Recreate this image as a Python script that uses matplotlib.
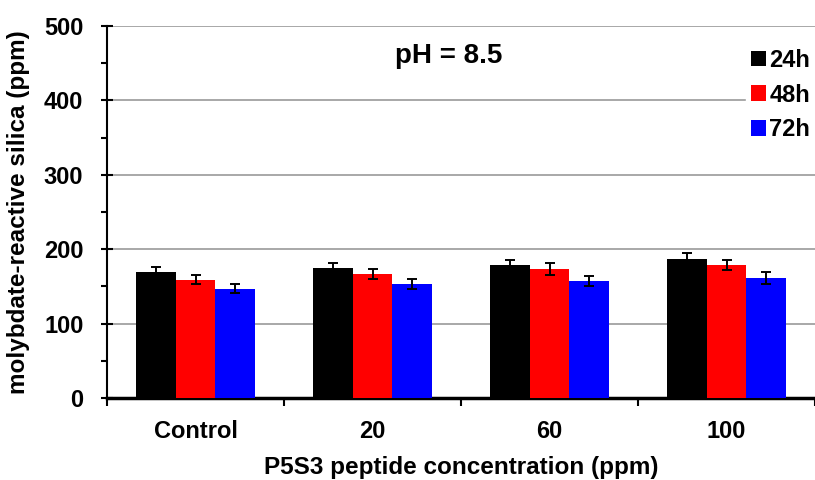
import numpy as np
import matplotlib.pyplot as plt

plt.rcParams['font.family'] = ['Liberation Sans', 'DejaVu Sans']
plt.rcParams['font.weight'] = 'bold'

categories = ['Control', '20', '60', '100']
series = ['24h', '48h', '72h']
colors = ['#000000', '#ff0000', '#0000ff']
values = [
    [169, 175, 179, 187],
    [159, 167, 173, 179],
    [147, 153, 157, 161],
]
errors = [
    [7, 7, 7, 7.5],
    [6, 7, 8, 7],
    [6, 7, 7, 8],
]

fig = plt.figure(figsize=(8.15, 4.8), dpi=100)
ax = fig.add_axes([0.1313, 0.1708, 1 - 0.1313, 0.9458 - 0.1708])

x = np.arange(len(categories))
w = 0.224
for i, name in enumerate(series):
    ax.bar(x + (i - 1) * w, values[i], w, color=colors[i], label=name, zorder=3,
           yerr=errors[i], error_kw=dict(ecolor='black', elinewidth=1.4, capsize=3.3, capthick=1.4))

ax.set_ylim(0, 500)
ax.set_xlim(-0.5, 3.466)
ax.set_yticks(np.arange(0, 501, 100))
ax.set_yticks(np.arange(50, 500, 100), minor=True)
ax.yaxis.grid(True, color='#999999', linewidth=1.2, zorder=0)
ax.set_axisbelow(True)

ax.set_xticks(x)
ax.set_xticklabels(categories, fontsize=17, fontweight='bold')
ax.set_xticks(np.arange(-0.5, 4, 1), minor=True)
ax.tick_params(axis='x', which='major', length=0, pad=16)
ax.tick_params(axis='x', which='minor', direction='out', length=6, width=1.5)
ax.tick_params(axis='y', which='major', direction='inout', length=8, width=1.5, labelsize=17, pad=13)
ax.tick_params(axis='y', which='minor', direction='out', length=4, width=1.5)
for lbl in ax.get_yticklabels():
    lbl.set_fontweight('bold')

ax.spines['top'].set_visible(False)
ax.spines['right'].set_visible(False)
ax.spines['left'].set_linewidth(1.5)
ax.spines['bottom'].set_linewidth(2.5)

ax.set_ylabel('molybdate-reactive silica (ppm)', fontsize=17.5, fontweight='bold', labelpad=10)
ax.set_xlabel('P5S3 peptide concentration (ppm)', fontsize=17.5, fontweight='bold', labelpad=9)

fig.text(449 / 815, 1 - 56 / 480, 'pH = 8.5', fontsize=20, fontweight='bold', ha='center', va='center')

leg = fig.legend(loc='upper right', bbox_to_anchor=(1.0, 1 - 44 / 480), fontsize=17, frameon=True,
                 handlelength=0.64, handleheight=0.64, handletextpad=0.15, labelspacing=0.5,
                 borderaxespad=0, borderpad=0.2, fancybox=False)
leg.get_frame().set_edgecolor('white')
leg.get_frame().set_facecolor('white')
leg.get_frame().set_alpha(1)
for t in leg.get_texts():
    t.set_fontweight('bold')

fig.savefig('out.png', dpi=100)
